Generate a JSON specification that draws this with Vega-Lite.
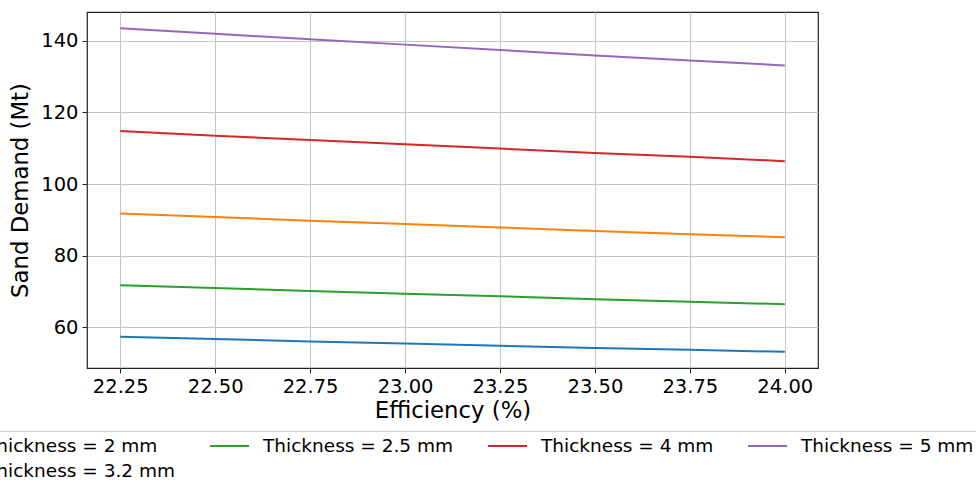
{
  "$schema": "https://vega.github.io/schema/vega-lite/v6.json",
  "width": 731,
  "height": 356,
  "autosize": {"type": "none"},
  "padding": {"left": 87, "top": 12, "right": 158, "bottom": 116},
  "background": "white",
  "config": {
    "font": "DejaVu Sans",
    "view": {"stroke": "#222222", "strokeWidth": 1.2},
    "axis": {
      "labelFontSize": 19.5,
      "titleFontSize": 22.8,
      "labelColor": "#000000",
      "titleColor": "#000000",
      "titleFontWeight": "normal",
      "tickColor": "#222222",
      "tickSize": 5,
      "domain": false,
      "gridColor": "#c4c4c4",
      "gridWidth": 1,
      "labelPadding": 4
    }
  },
  "data": {
    "values": [
      {"eff": 22.25, "thick": "Thickness = 2 mm", "sand": 57.4},
      {"eff": 22.5, "thick": "Thickness = 2 mm", "sand": 56.8},
      {"eff": 22.75, "thick": "Thickness = 2 mm", "sand": 56.1},
      {"eff": 23.0, "thick": "Thickness = 2 mm", "sand": 55.5},
      {"eff": 23.25, "thick": "Thickness = 2 mm", "sand": 54.9},
      {"eff": 23.5, "thick": "Thickness = 2 mm", "sand": 54.3},
      {"eff": 23.75, "thick": "Thickness = 2 mm", "sand": 53.8},
      {"eff": 24.0, "thick": "Thickness = 2 mm", "sand": 53.2},
      {"eff": 22.25, "thick": "Thickness = 3.2 mm", "sand": 91.8},
      {"eff": 22.5, "thick": "Thickness = 3.2 mm", "sand": 90.8},
      {"eff": 22.75, "thick": "Thickness = 3.2 mm", "sand": 89.8},
      {"eff": 23.0, "thick": "Thickness = 3.2 mm", "sand": 88.9},
      {"eff": 23.25, "thick": "Thickness = 3.2 mm", "sand": 87.9},
      {"eff": 23.5, "thick": "Thickness = 3.2 mm", "sand": 86.9},
      {"eff": 23.75, "thick": "Thickness = 3.2 mm", "sand": 86.0},
      {"eff": 24.0, "thick": "Thickness = 3.2 mm", "sand": 85.2},
      {"eff": 22.25, "thick": "Thickness = 2.5 mm", "sand": 71.8},
      {"eff": 22.5, "thick": "Thickness = 2.5 mm", "sand": 71.0},
      {"eff": 22.75, "thick": "Thickness = 2.5 mm", "sand": 70.2},
      {"eff": 23.0, "thick": "Thickness = 2.5 mm", "sand": 69.4},
      {"eff": 23.25, "thick": "Thickness = 2.5 mm", "sand": 68.7},
      {"eff": 23.5, "thick": "Thickness = 2.5 mm", "sand": 67.9},
      {"eff": 23.75, "thick": "Thickness = 2.5 mm", "sand": 67.2},
      {"eff": 24.0, "thick": "Thickness = 2.5 mm", "sand": 66.5},
      {"eff": 22.25, "thick": "Thickness = 4 mm", "sand": 114.8},
      {"eff": 22.5, "thick": "Thickness = 4 mm", "sand": 113.5},
      {"eff": 22.75, "thick": "Thickness = 4 mm", "sand": 112.3},
      {"eff": 23.0, "thick": "Thickness = 4 mm", "sand": 111.1},
      {"eff": 23.25, "thick": "Thickness = 4 mm", "sand": 109.9},
      {"eff": 23.5, "thick": "Thickness = 4 mm", "sand": 108.7},
      {"eff": 23.75, "thick": "Thickness = 4 mm", "sand": 107.6},
      {"eff": 24.0, "thick": "Thickness = 4 mm", "sand": 106.4},
      {"eff": 22.25, "thick": "Thickness = 5 mm", "sand": 143.5},
      {"eff": 22.5, "thick": "Thickness = 5 mm", "sand": 141.9},
      {"eff": 22.75, "thick": "Thickness = 5 mm", "sand": 140.4},
      {"eff": 23.0, "thick": "Thickness = 5 mm", "sand": 138.9},
      {"eff": 23.25, "thick": "Thickness = 5 mm", "sand": 137.4},
      {"eff": 23.5, "thick": "Thickness = 5 mm", "sand": 135.9},
      {"eff": 23.75, "thick": "Thickness = 5 mm", "sand": 134.5},
      {"eff": 24.0, "thick": "Thickness = 5 mm", "sand": 133.1}
    ]
  },
  "mark": {"type": "line", "strokeWidth": 2},
  "encoding": {
    "x": {
      "field": "eff",
      "type": "quantitative",
      "title": "Efficiency (%)",
      "scale": {"domain": [22.1625, 24.0875], "nice": false, "zero": false},
      "axis": {"values": [22.25, 22.5, 22.75, 23.0, 23.25, 23.5, 23.75, 24.0], "format": ".2f", "titlePadding": 4}
    },
    "y": {
      "field": "sand",
      "type": "quantitative",
      "title": "Sand Demand (Mt)",
      "scale": {"domain": [48.7, 148], "nice": false, "zero": false},
      "axis": {"values": [60, 80, 100, 120, 140], "titlePadding": 8}
    },
    "color": {
      "field": "thick",
      "type": "nominal",
      "scale": {
        "domain": ["Thickness = 2 mm", "Thickness = 5 mm", "Thickness = 2.5 mm", "Thickness = 3.2 mm", "Thickness = 4 mm"],
        "range": ["#1f77b4", "#9467bd", "#2ca02c", "#ff7f0e", "#d62728"]
      },
      "legend": {
        "title": null,
        "orient": "none",
        "legendX": -161,
        "legendY": 419,
        "columns": 4,
        "columnPadding": 33,
        "rowPadding": 5,
        "padding": 5,
        "clipHeight": 20,
        "strokeColor": "#d0d0d0",
        "cornerRadius": 4,
        "fillColor": "white",
        "symbolType": "stroke",
        "symbolSize": 1521,
        "symbolStrokeWidth": 2,
        "labelFontSize": 18.5,
        "labelColor": "#000000",
        "labelOffset": 13,
        "labelLimit": 400
      }
    }
  }
}
